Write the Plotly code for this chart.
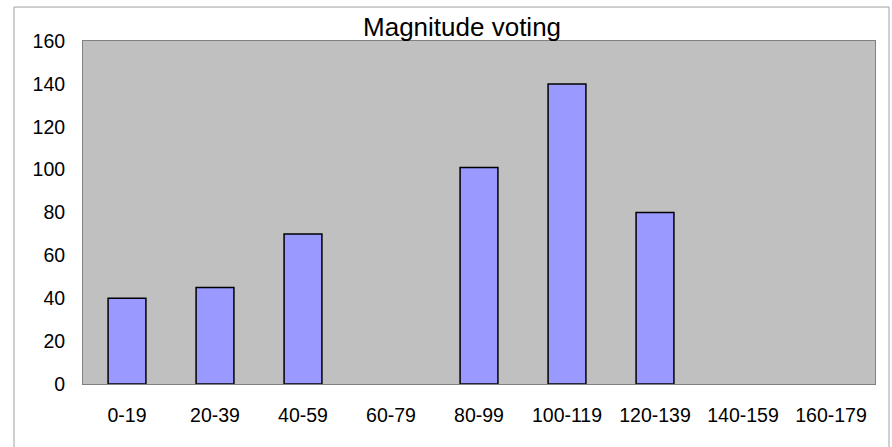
import plotly.graph_objects as go

categories = ["0-19", "20-39", "40-59", "60-79", "80-99", "100-119", "120-139", "140-159", "160-179"]
votes = [40, 45, 70, 0, 101, 140, 80, 0, 0]
y_ticks = [0, 20, 40, 60, 80, 100, 120, 140, 160]

line_widths = [1.5 if v > 0 else 0 for v in votes]

fig = go.Figure()
fig.add_trace(go.Bar(
    x=categories, y=votes,
    marker=dict(color="#9999FF", line=dict(color="#000000", width=line_widths)),
    width=0.43,
))

font_family = "Liberation Sans, Arial, sans-serif"
fig.update_layout(
    width=892, height=447,
    margin=dict(l=83, r=17, t=41, b=63),
    paper_bgcolor="#FFFFFF",
    plot_bgcolor="#C0C0C0",
    showlegend=False,
    title=dict(text="Magnitude voting", x=0.518, xanchor="center", y=0.94, yanchor="middle",
               font=dict(family=font_family, size=26, color="#000000")),
    font=dict(family=font_family, size=19, color="#000000"),
    xaxis=dict(showgrid=False, zeroline=False, showline=True, linecolor="#808080", linewidth=1,
               mirror=True, ticks="outside", ticklen=0, ticklabelstandoff=14,
               tickfont=dict(size=19.5)),
    yaxis=dict(range=[0, 160], tickvals=y_ticks, showgrid=False, zeroline=False, showline=True,
               linecolor="#808080", linewidth=1, mirror=True, ticks="outside", ticklen=0,
               ticklabelstandoff=13, tickfont=dict(size=19.5)),
)

fig.add_shape(type="rect", xref="paper", yref="paper",
              x0=-0.0871, x1=1.0177, y0=-0.2, y1=1.099,
              line=dict(color="#A0A0A0", width=1), fillcolor="rgba(0,0,0,0)", layer="below")

fig.write_html("out.html")
